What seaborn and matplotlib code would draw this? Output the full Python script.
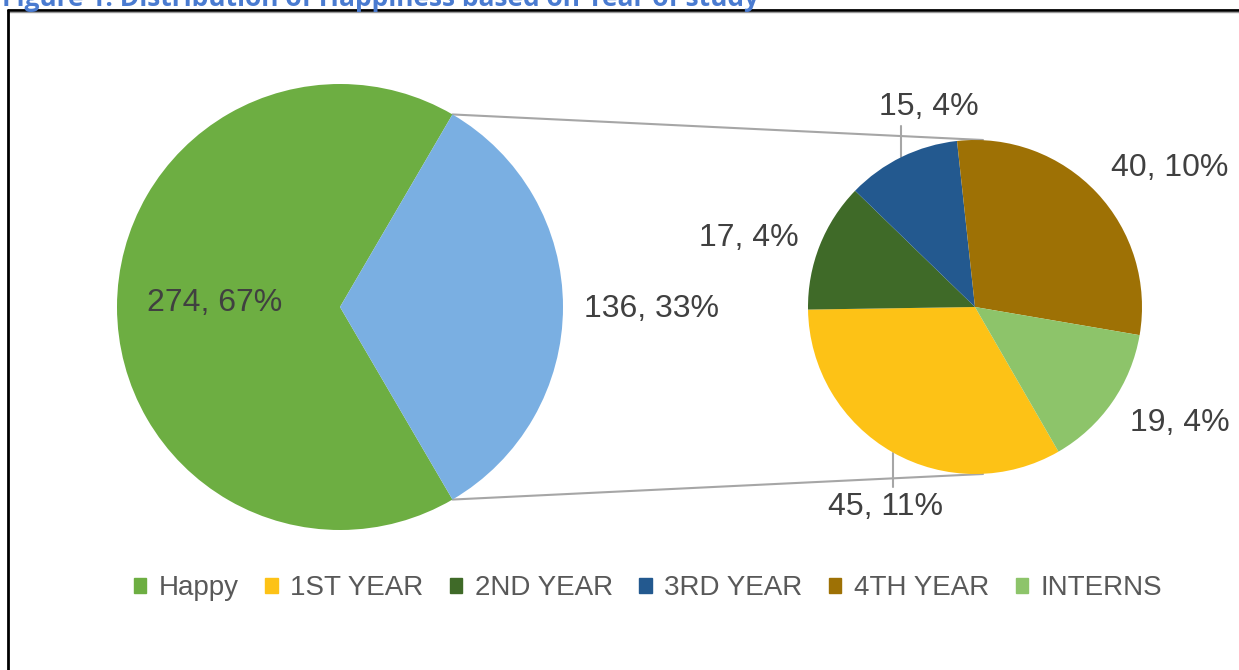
import numpy as np
import matplotlib
matplotlib.use("Agg")
import matplotlib.pyplot as plt
import seaborn as sns
from matplotlib.patches import Patch
from matplotlib.lines import Line2D

# data
main_labels = ["Happy", "Other"]
main_values = [274, 136]
main_pct = ["67%", "33%"]

year_labels = ["1ST YEAR", "2ND YEAR", "3RD YEAR", "4TH YEAR", "INTERNS"]
year_values = [45, 17, 15, 40, 19]
year_pct = ["11%", "4%", "4%", "10%", "4%"]

title = "Figure 1: Distribution of Happiness based on Year of study"

main_colors = ["#6DAE42", "#7AAFE2"]
year_colors = ["#FDC216", "#3F6A28", "#23598F", "#9E7105", "#8DC46A"]

sns.set_theme(style="white")
plt.rcParams['font.family'] = ['Liberation Sans', 'DejaVu Sans']

W, H = 1239, 670
fig = plt.figure(figsize=(W / 100, H / 100), dpi=100)
ax = fig.add_axes([0, 0, 1, 1])

# layout (pixel units, y measured from bottom)
c1, r1 = (340, H - 307), 223
c2, r2 = (975, H - 307), 167

# main pie, the "other" slice centered on the right side
start1 = 180 * main_values[1] / sum(main_values)
ax.pie(main_values, colors=main_colors, startangle=start1, center=c1,
       radius=r1, wedgeprops=dict(linewidth=0), frame=True)

# secondary pie
ax.pie(year_values, colors=year_colors, startangle=-60, counterclock=False,
       center=c2, radius=r2, wedgeprops=dict(linewidth=0), frame=True)
ax.set_xlim(0, W)
ax.set_ylim(0, H)
ax.set_aspect('auto')
ax.axis('off')

# connector lines
a = np.deg2rad(start1)
top1 = (c1[0] + r1 * np.cos(a), c1[1] + r1 * np.sin(a))
bot1 = (c1[0] + r1 * np.cos(a), c1[1] - r1 * np.sin(a))
ax.plot([top1[0], c2[0] + 8], [top1[1], c2[1] + r2], color="#A6A6A6", lw=1.5, zorder=0)
ax.plot([bot1[0], c2[0] + 8], [bot1[1], c2[1] - r2], color="#A6A6A6", lw=1.5, zorder=0)

txt = dict(fontsize=23, color="#404040", ha='center', va='center')
ax.text(215, H - 303, f"{main_values[0]}, {main_pct[0]}", **txt)
ax.text(651, H - 309, f"{main_values[1]}, {main_pct[1]}", **txt)

year_text_pos = [(885, 507), (749, 238), (929, 107), (1170, 168), (1180, 423)]
for v, p, (x, y) in zip(year_values, year_pct, year_text_pos):
    ax.text(x, H - y, f"{v}, {p}", **txt)

# leader lines for the two labels that sit further out
for lx, ly0, ly1 in [(901, 126, 157), (893, 453, 487)]:
    ax.plot([lx, lx], [H - ly0, H - ly1], color="#A6A6A6", lw=1.5, zorder=0)

# legend
handles = [Patch(color=main_colors[0], label=main_labels[0])]
handles += [Patch(color=c, label=l) for c, l in zip(year_colors, year_labels)]
leg = ax.legend(handles=handles, ncol=6, loc='center', bbox_to_anchor=(648 / W, (H - 588) / H),
                frameon=False, fontsize=20, handlelength=0.45, handleheight=0.45,
                handletextpad=0.45, columnspacing=0.95, labelcolor="#595959")

# chart frame and clipped caption
ax.add_line(Line2D([8, W], [H - 10, H - 10], color="black", lw=2))
ax.add_line(Line2D([8, W], [H - 12, H - 12], color="#9A9A9A", lw=1))
ax.add_line(Line2D([8, 8], [0, H - 10], color="black", lw=2))
ax.text(2, H + 1, title, fontsize=19, fontweight='bold', color="#4A7BD0",
        ha='left', va='center', family=['Open Sans', 'DejaVu Sans'])

fig.savefig("out.png", dpi=100)
